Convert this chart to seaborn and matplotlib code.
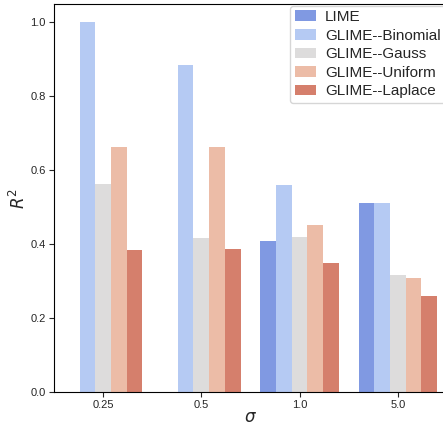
import matplotlib
matplotlib.use("Agg")
import pandas as pd
import seaborn as sns
from matplotlib import pyplot as plt

sigmas = ["0.25", "0.5", "1.0", "5.0"]
methods = ["LIME", "GLIME--Binomial", "GLIME--Gauss", "GLIME--Uniform", "GLIME--Laplace"]
lime = [0.0, 0.0, 0.409, 0.511]
binomial = [1.0, 0.884, 0.559, 0.511]
gauss = [0.562, 0.417, 0.419, 0.317]
uniform = [0.664, 0.664, 0.452, 0.309]
laplace = [0.384, 0.387, 0.350, 0.261]

rows = []
for name, vals in zip(methods, [lime, binomial, gauss, uniform, laplace]):
    for s, v in zip(sigmas, vals):
        rows.append({"sigma": s, "method": name, "r2": v})
df = pd.DataFrame(rows)

sns.set_style("ticks")
plt.rcParams["font.family"] = ["Liberation Sans", "DejaVu Sans"]
plt.rcParams["mathtext.fontset"] = "dejavusans"

fig = plt.figure(figsize=(4.43, 4.28), dpi=100)
ax = fig.add_axes([0.1219, 0.0841, 0.887, 0.9066])
sns.barplot(data=df, x="sigma", y="r2", hue="method", order=sigmas,
            hue_order=methods, palette="coolwarm", linewidth=0, ax=ax)
ax.set_xlim(-0.5, 3.5)
ax.set_ylim(0, 1.05)
ax.set_yticks([0.0, 0.2, 0.4, 0.6, 0.8, 1.0])
ax.tick_params(labelsize=8, colors="0.15", length=3.5, pad=2.5)
for sp in ax.spines.values():
    sp.set_color("black")
ax.set_xlabel(r"$\sigma$", fontsize=12, labelpad=0)
ax.set_ylabel(r"$R^2$", fontsize=12, labelpad=2)
ax.legend(loc="upper right", fontsize=11, frameon=True, borderaxespad=0.1,
          handlelength=1.4, handletextpad=0.6, labelspacing=0.3, borderpad=0.3)

fig.savefig("out.png", dpi=100)
